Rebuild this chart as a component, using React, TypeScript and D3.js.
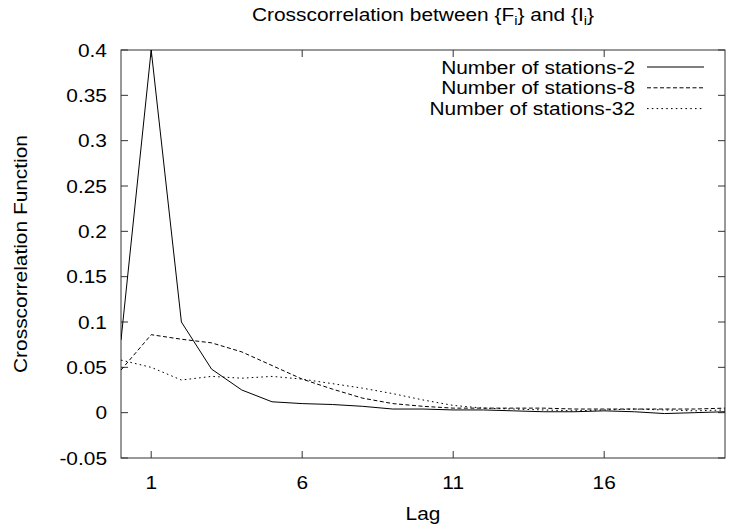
import React from "react";
import * as d3 from "d3";

const lags = [0, 1, 2, 3, 4, 5, 6, 7, 8, 9, 10, 11, 12, 13, 14, 15, 16, 17, 18, 19, 20];
const stations2 = [0.08, 0.4, 0.1, 0.048, 0.025, 0.012, 0.01, 0.009, 0.007, 0.004, 0.004, 0.003, 0.003, 0.002, 0.001, 0.001, 0.002, 0.001, -0.001, 0.0, 0.001];
const stations8 = [0.047, 0.086, 0.081, 0.077, 0.067, 0.052, 0.037, 0.026, 0.016, 0.01, 0.007, 0.005, 0.005, 0.005, 0.005, 0.004, 0.004, 0.004, 0.004, 0.004, 0.005];
const stations32 = [0.058, 0.05, 0.036, 0.04, 0.038, 0.04, 0.037, 0.032, 0.027, 0.021, 0.014, 0.008, 0.005, 0.004, 0.003, 0.002, 0.003, 0.004, 0.003, 0.002, 0.003];
const seriesNames = ["Number of stations-2", "Number of stations-8", "Number of stations-32"];
const xTicks = [1, 6, 11, 16];
const yTicks = [-0.05, 0, 0.05, 0.1, 0.15, 0.2, 0.25, 0.3, 0.35, 0.4];

const W = 734;
const H = 529;
const L = 121, R = 725, T = 50, B = 458;
const FONT = "'Liberation Sans', Arial, Helvetica, sans-serif";
const FS = 18.5;
const SX = 1.13;

function T_(props: { x: number; y: number; anchor?: string; children: React.ReactNode; rotate?: boolean }) {
  const { x, y, anchor = "start", children, rotate } = props;
  const tr = rotate ? `translate(${x},${y}) rotate(-90) scale(${SX},1)` : `translate(${x},${y}) scale(${SX},1)`;
  return (
    <text transform={tr} textAnchor={anchor} fontFamily={FONT} fontSize={FS} fill="#000">
      {children}
    </text>
  );
}

export default function App() {
  const x = d3.scaleLinear().domain([0, 20]).range([L, R]);
  const y = d3.scaleLinear().domain([-0.05, 0.4]).range([B, T]);
  const line = d3
    .line<number>()
    .x((_, i) => x(lags[i]))
    .y((d) => y(d));

  const series = [
    { data: stations2, dash: "none" },
    { data: stations8, dash: "4,2.5" },
    { data: stations32, dash: "1.6,3.2" },
  ];
  const fmt = (v: number) => (Math.abs(v) < 1e-9 ? "0" : String(+v.toFixed(2)));
  const tk = 7;

  return (
    <svg width={W} height={H} style={{ position: "absolute", left: 0, top: 0, background: "#fff" }}>
      <rect x={0} y={0} width={W} height={H} fill="#fff" />
      {/* ticks */}
      {yTicks.map((v) => (
        <g key={"y" + v}>
          <line x1={L} x2={L + tk} y1={y(v)} y2={y(v)} stroke="#333" strokeWidth={1} />
          <line x1={R} x2={R - tk} y1={y(v)} y2={y(v)} stroke="#333" strokeWidth={1} />
          <T_ x={L - 14} y={y(v) + 6.5} anchor="end">{fmt(v)}</T_>
        </g>
      ))}
      {xTicks.map((v) => (
        <g key={"x" + v}>
          <line x1={x(v)} x2={x(v)} y1={B} y2={B - tk} stroke="#333" strokeWidth={1} />
          <line x1={x(v)} x2={x(v)} y1={T} y2={T + tk} stroke="#333" strokeWidth={1} />
          <T_ x={x(v)} y={489} anchor="middle">{v}</T_>
        </g>
      ))}
      <rect x={L} y={T} width={R - L} height={B - T} fill="none" stroke="#333" strokeWidth={1} />
      {/* series */}
      <g clipPath="url(#clip)">
        {series.map((s, i) => (
          <path key={i} d={line(s.data) || ""} fill="none" stroke="#000" strokeWidth={1} strokeDasharray={s.dash} />
        ))}
      </g>
      <defs>
        <clipPath id="clip">
          <rect x={L} y={T - 1} width={R - L} height={B - T + 2} />
        </clipPath>
      </defs>
      {/* legend */}
      {seriesNames.map((n, i) => (
        <g key={n}>
          <T_ x={635} y={73.5 + i * 20.8} anchor="end">{n}</T_>
          <line x1={647} x2={704} y1={67 + i * 20.8} y2={67 + i * 20.8} stroke="#000" strokeWidth={1} strokeDasharray={series[i].dash} />
        </g>
      ))}
      {/* title */}
      <text transform={`translate(${(L + R) / 2},21) scale(${SX},1)`} textAnchor="middle" fontFamily={FONT} fontSize={FS}>
        Crosscorrelation between {"{"}F<tspan dy={4} fontSize={13}>i</tspan><tspan dy={-4}>{"}"} and {"{"}I</tspan><tspan dy={4} fontSize={13}>i</tspan><tspan dy={-4}>{"}"}</tspan>
      </text>
      <T_ x={(L + R) / 2} y={520} anchor="middle">Lag</T_>
      <T_ x={27} y={(T + B) / 2} anchor="middle" rotate>Crosscorrelation Function</T_>
    </svg>
  );
}
